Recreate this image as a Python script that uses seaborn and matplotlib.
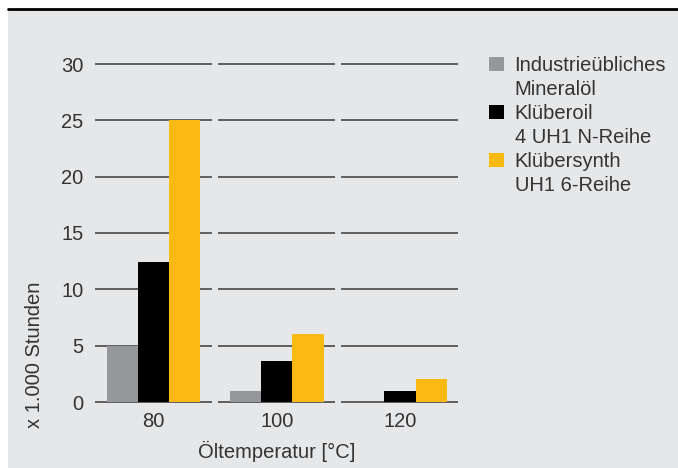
"""Lebensdauer der Öle bei verschiedenen Temperaturen."""

import matplotlib
matplotlib.use("Agg")
import matplotlib.pyplot as plt
from matplotlib.patches import Patch, Rectangle
from matplotlib.lines import Line2D
import pandas as pd
import seaborn as sns

# Daten
temperaturen = ["80", "100", "120"]
oele = [
    "Industrieübliches\nMineralöl",
    "Klüberoil\n4 UH1 N-Reihe",
    "Klübersynth\nUH1 6-Reihe",
]
mineraloel = [5.0, 1.0, 0.0]
klueberoil = [12.4, 3.6, 1.0]
kluebersynth = [25.0, 6.0, 2.0]
yticks = [0, 5, 10, 15, 20, 25, 30]

farben = ["#96979a", "#000000", "#fdb913"]
hintergrund = "#e6e7e9"
textfarbe = "#333333"
fs = 14.5

rows = []
for oel, werte in zip(oele, [mineraloel, klueberoil, kluebersynth]):
    for temp, wert in zip(temperaturen, werte):
        rows.append({"temp": temp, "oel": oel, "stunden": wert})
df = pd.DataFrame(rows)

sns.set_style("white")
plt.rcParams["font.family"] = ["Liberation Sans", "DejaVu Sans"]

W, H = 678, 468
fig = plt.figure(figsize=(W / 100, H / 100), dpi=100)
fig.patch.set_facecolor("white")
fig.add_artist(
    Rectangle((8 / W, 0), 1 - 8 / W, 1 - 10 / H, transform=fig.transFigure,
              facecolor=hintergrund, edgecolor="none", zorder=-10)
)
fig.add_artist(
    Line2D([8 / W, 1], [1 - 8.5 / H] * 2, transform=fig.transFigure,
           color="black", lw=2)
)

ax = fig.add_axes([92 / W, 1 - 402 / H, 369.5 / W, 338 / H])
ax.patch.set_visible(False)

sns.barplot(
    data=df, x="temp", y="stunden", hue="oel", order=temperaturen,
    hue_order=oele, palette=farben, saturation=1, width=0.76,
    legend=False, ax=ax, zorder=2, linewidth=0, edgecolor="none",
)

# Gitterlinien mit Lücken zwischen den Gruppen
for i in range(len(temperaturen)):
    ax.hlines(yticks, i - 0.475, i + 0.475, color="#3a3a3a", lw=1.1,
              zorder=0.5, clip_on=False)

ax.set_xlim(-0.5, 2.5)
ax.set_ylim(0, 30)
ax.set_yticks(yticks)
for s in ax.spines.values():
    s.set_visible(False)
ax.tick_params(axis="y", length=0, pad=6, labelsize=fs, labelcolor=textfarbe)
ax.tick_params(axis="x", length=0, pad=7, labelsize=fs, labelcolor=textfarbe)
ax.set_ylabel("")
ax.set_xlabel("Öltemperatur [°C]", fontsize=fs, color=textfarbe, labelpad=7)

fig.text(35 / W, 1 - 354.5 / H, "x 1.000 Stunden", rotation=90,
         ha="center", va="center", fontsize=fs, color=textfarbe)

# Legende: Farbfeld nur neben der ersten Zeile
handles, labels = [], []
for oel, farbe in zip(oele, farben):
    erste, zweite = oel.split("\n")
    handles.append(Patch(facecolor=farbe, edgecolor="none"))
    labels.append(erste)
    handles.append(Patch(facecolor="none", edgecolor="none"))
    labels.append(zweite)
fig.legend(
    handles, labels, loc="upper left", bbox_to_anchor=(489 / W, 1 - 56 / H),
    frameon=False, fontsize=fs, labelcolor=textfarbe, handlelength=0.72,
    handleheight=0.68, handletextpad=0.55, labelspacing=0.25,
    borderpad=0, borderaxespad=0,
)

fig.savefig("out.png", dpi=100)
